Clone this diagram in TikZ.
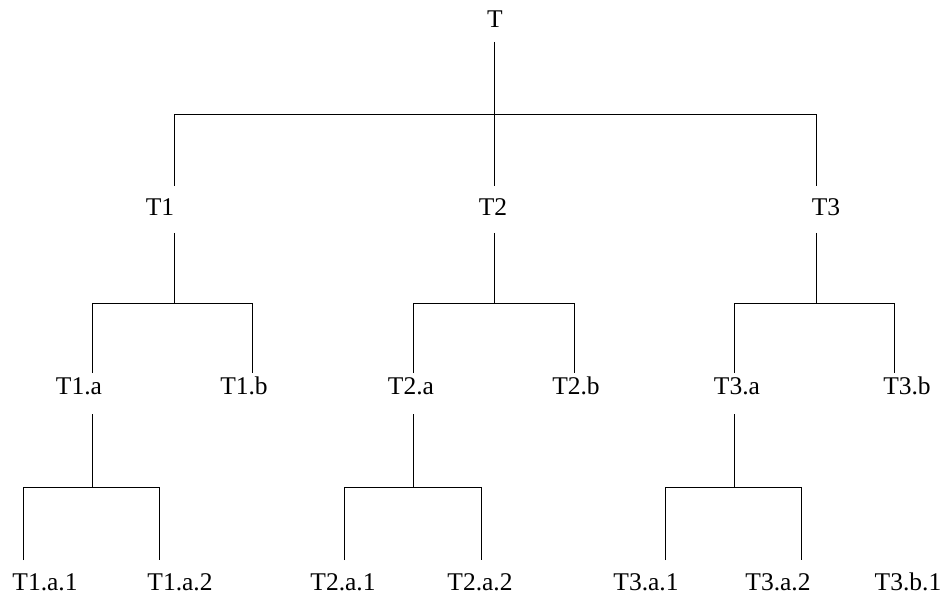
\documentclass[tikz,border=0pt]{standalone}
\usepackage{fontspec}
\setmainfont{Liberation Serif}
\begin{document}
\begin{tikzpicture}[x=1pt,y=-1pt,
  lbl/.style={anchor=base, inner sep=0pt, font=\fontsize{25.5}{30}\selectfont},
  link/.style={line width=0.9pt, draw=black}]
\useasboundingbox (0,0) rectangle (946,596);
% ---------- labels ----------
\node[lbl] (T) at (495,28) {T};
\node[lbl] (T1) at (160,216) {T1};
\node[lbl] (T2) at (493,216) {T2};
\node[lbl] (T3) at (826,216) {T3};
\node[lbl] (T1a) at (79,395) {T1.a};
\node[lbl] (T1b) at (244,395) {T1.b};
\node[lbl] (T2a) at (411,395) {T2.a};
\node[lbl] (T2b) at (576,395) {T2.b};
\node[lbl] (T3a) at (737,395) {T3.a};
\node[lbl] (T3b) at (907,395) {T3.b};
\node[lbl] (T1a1) at (45,590) {T1.a.1};
\node[lbl] (T1a2) at (180,590) {T1.a.2};
\node[lbl] (T2a1) at (343,590) {T2.a.1};
\node[lbl] (T2a2) at (480,590) {T2.a.2};
\node[lbl] (T3a1) at (646,590) {T3.a.1};
\node[lbl] (T3a2) at (778,590) {T3.a.2};
\node[lbl] (T3b1) at (908,590) {T3.b.1};
% ---------- connector end points ----------
\coordinate (T-out) at (494,42);
\coordinate (T-bar) at (494,114);
\coordinate (T1-in) at (174,186);
\coordinate (T2-in) at (494,186);
\coordinate (T3-in) at (816,186);
\coordinate (T1-out) at (174,233);
\coordinate (T2-out) at (494,233);
\coordinate (T3-out) at (816,233);
\coordinate (L2-bar) at (0,303);
\coordinate (T1a-in) at (92,373);
\coordinate (T1b-in) at (252,373);
\coordinate (T2a-in) at (413,373);
\coordinate (T2b-in) at (574,373);
\coordinate (T3a-in) at (734,373);
\coordinate (T3b-in) at (894,373);
\coordinate (T1a-out) at (92,414);
\coordinate (T2a-out) at (413,414);
\coordinate (T3a-out) at (734,414);
\coordinate (L3-bar) at (0,487);
\coordinate (T1a1-in) at (23,560);
\coordinate (T1a2-in) at (159,560);
\coordinate (T2a1-in) at (344,560);
\coordinate (T2a2-in) at (481,560);
\coordinate (T3a1-in) at (665,560);
\coordinate (T3a2-in) at (801,560);
% ---------- level 1 ----------
\draw[link] (T-out) -- (T-bar);
\draw[link] (T1-in) -- (T1-in |- T-bar) -- (T3-in |- T-bar) -- (T3-in);
\draw[link] (T2-in) -- (T2-in |- T-bar);
% ---------- level 2 ----------
\draw[link] (T1-out) -- (T1-out |- L2-bar);
\draw[link] (T1a-in) -- (T1a-in |- L2-bar) -- (T1b-in |- L2-bar) -- (T1b-in);
\draw[link] (T2-out) -- (T2-out |- L2-bar);
\draw[link] (T2a-in) -- (T2a-in |- L2-bar) -- (T2b-in |- L2-bar) -- (T2b-in);
\draw[link] (T3-out) -- (T3-out |- L2-bar);
\draw[link] (T3a-in) -- (T3a-in |- L2-bar) -- (T3b-in |- L2-bar) -- (T3b-in);
% ---------- level 3 ----------
\draw[link] (T1a-out) -- (T1a-out |- L3-bar);
\draw[link] (T1a1-in) -- (T1a1-in |- L3-bar) -- (T1a2-in |- L3-bar) -- (T1a2-in);
\draw[link] (T2a-out) -- (T2a-out |- L3-bar);
\draw[link] (T2a1-in) -- (T2a1-in |- L3-bar) -- (T2a2-in |- L3-bar) -- (T2a2-in);
\draw[link] (T3a-out) -- (T3a-out |- L3-bar);
\draw[link] (T3a1-in) -- (T3a1-in |- L3-bar) -- (T3a2-in |- L3-bar) -- (T3a2-in);
\end{tikzpicture}
\end{document}
